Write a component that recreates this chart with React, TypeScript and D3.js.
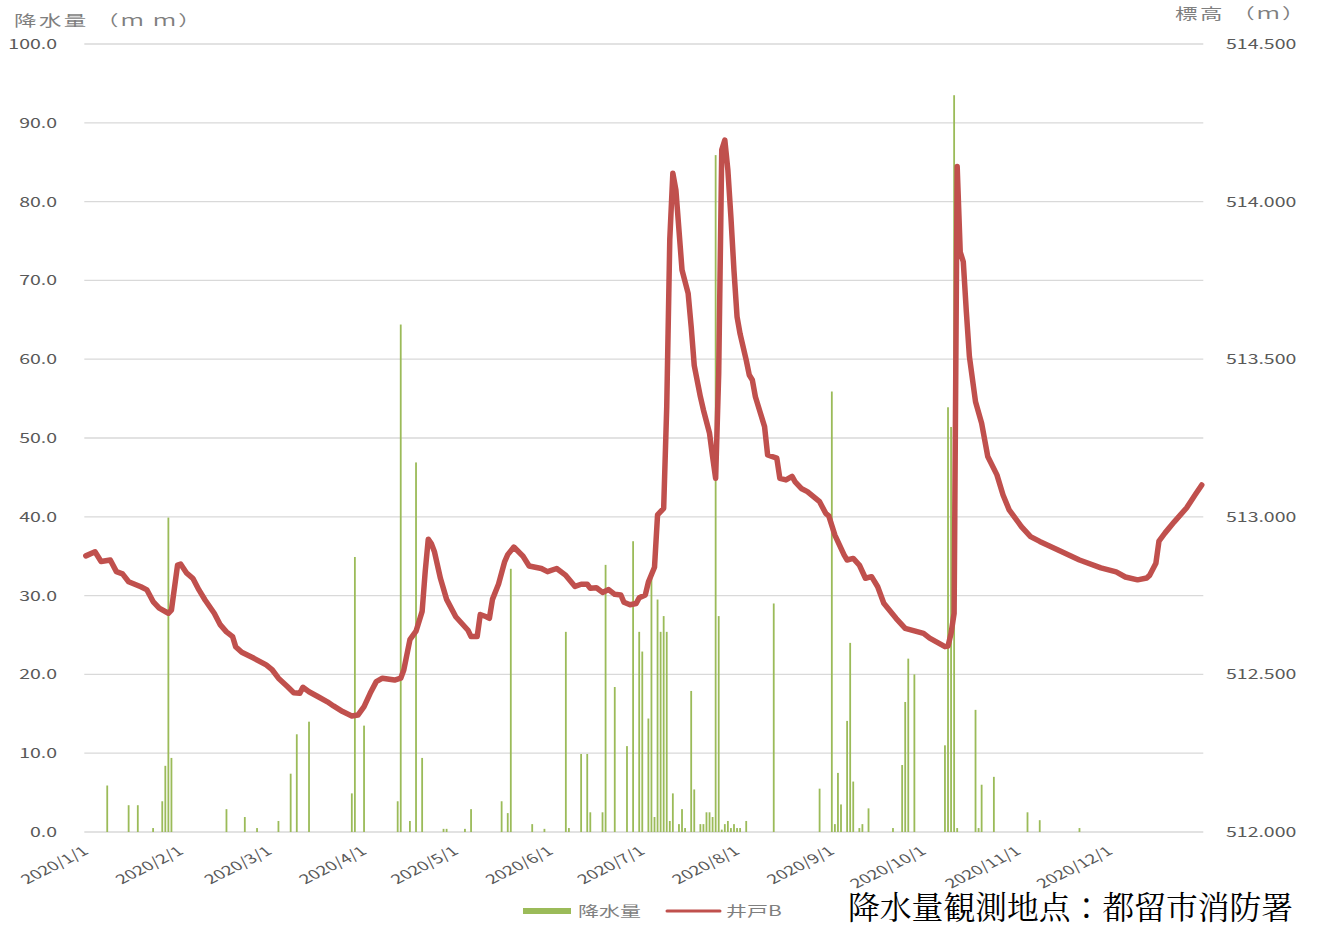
import { useEffect, useRef } from 'react';
import * as d3 from 'd3';

// daily rain (mm), day index counted from 2020/1/1
const rainDays = [7, 14, 17, 22, 25, 26, 27, 28, 46, 52, 56, 63, 67, 69, 73, 87, 88, 91,
  102, 103, 106, 108, 110, 117, 118, 124, 126, 136, 138, 139, 146, 150,
  157, 158, 162, 164, 165, 169, 170, 173, 177, 179, 181, 182, 184, 185, 186, 187, 188, 189, 190, 191, 192,
  194, 195, 196, 198, 199, 201, 202, 203, 204, 205, 206, 207, 208, 209, 210, 211, 212, 213, 214, 216,
  225, 240, 244, 245, 246, 247, 249, 250, 251, 253, 254, 256, 264, 267, 268, 269, 271,
  281, 282, 283, 284, 285, 291, 292, 293, 297, 308, 312, 325];
const rainMm = [5.9, 3.4, 3.4, 0.5, 3.9, 8.4, 39.9, 9.4, 2.9, 1.9, 0.5, 1.4, 7.4, 12.4, 14.0, 4.9, 34.9, 13.5,
  3.9, 64.4, 1.4, 46.9, 9.4, 0.4, 0.4, 0.4, 2.9, 3.9, 2.4, 33.4, 1.0, 0.4,
  25.4, 0.5, 9.9, 9.9, 2.5, 2.5, 33.9, 18.4, 10.9, 36.9, 25.4, 22.9, 14.4, 33.0, 1.9, 29.5, 25.4, 27.4, 25.4, 1.4, 4.9,
  1.0, 2.9, 0.5, 17.9, 5.4, 1.0, 1.0, 2.5, 2.5, 1.9, 85.9, 27.4, 0.3, 1.0, 1.4, 0.5, 1.0, 0.5, 0.5, 1.4,
  29.0, 5.5, 55.9, 1.0, 7.5, 3.5, 14.1, 24.0, 6.4, 0.5, 1.0, 3.0, 0.5, 8.5, 16.5, 22.0, 20.0,
  11.0, 53.9, 51.4, 93.5, 0.5, 15.5, 0.5, 6.0, 7.0, 2.5, 1.5, 0.5];

// well B elevation (m), read at these day indices
const wellDays = [0, 3, 5, 8, 10, 12, 14, 18, 20, 22, 24, 27, 28, 30, 31, 33, 35, 37, 39, 42, 44, 46, 48, 49, 51,
  55, 59, 61, 63, 66, 68, 70, 71, 73, 76, 79, 81, 84, 87, 89, 91, 93, 95, 97, 101, 103, 104, 106, 108, 110,
  111, 112, 113, 114, 116, 118, 121, 125, 126, 128, 129, 131, 132, 133, 135, 137, 138, 140, 143, 145, 149,
  151, 154, 157, 160, 162, 164, 165, 167, 169, 171, 173, 175, 176, 178, 180, 181, 183, 184, 186, 187, 189,
  190, 191, 192, 193, 195, 197, 198, 199, 201, 202, 204, 205, 206, 207, 208, 209, 210, 211, 212, 213, 214,
  216, 217, 218, 219, 220, 222, 223, 226, 227, 229, 231, 232, 234, 236, 238, 240, 242, 243, 245, 248, 249,
  251, 253, 255, 257, 259, 261, 265, 268, 274, 276, 281, 282, 283, 284, 285, 286, 287, 288, 289, 291, 293,
  295, 298, 300, 302, 306, 309, 312, 318, 325, 332, 337, 340, 344, 347, 348, 350, 351, 353, 356, 360, 363, 365];
const wellLevel = [512.876, 512.889, 512.858, 512.863, 512.826, 512.819, 512.794, 512.778, 512.768, 512.731,
  512.710, 512.694, 512.704, 512.847, 512.850, 512.821, 512.805, 512.768, 512.736, 512.694, 512.657, 512.635,
  512.620, 512.588, 512.570, 512.551, 512.530, 512.514, 512.488, 512.461, 512.442, 512.440, 512.459, 512.445,
  512.429, 512.413, 512.400, 512.382, 512.368, 512.371, 512.398, 512.440, 512.477, 512.488, 512.482, 512.488,
  512.514, 512.610, 512.637, 512.700, 512.826, 512.929, 512.915, 512.890, 512.804, 512.738, 512.683, 512.640,
  512.620, 512.620, 512.690, 512.683, 512.678, 512.738, 512.787, 512.858, 512.880, 512.904, 512.875, 512.844,
  512.836, 512.826, 512.836, 512.814, 512.779, 512.786, 512.786, 512.773, 512.775, 512.760, 512.769, 512.754,
  512.752, 512.729, 512.721, 512.725, 512.743, 512.752, 512.793, 512.840, 513.006, 513.027,
  513.349, 513.880, 514.090, 514.037, 513.783, 513.709, 513.603, 513.480, 513.381, 513.339, 513.265, 513.191,
  513.122, 513.455, 514.164, 514.195, 514.100, 513.950, 513.780, 513.635, 513.580,
  513.497, 513.450, 513.434, 513.381, 513.349, 513.286, 513.196, 513.186, 513.122, 513.117, 513.128, 513.111,
  513.090, 513.080, 513.064, 513.048, 513.011, 513.003, 512.942, 512.879, 512.863,
  512.868, 512.847, 512.805, 512.810, 512.778, 512.726, 512.678, 512.646, 512.630, 512.615, 512.588, 512.590,
  512.630, 512.694, 514.111, 513.840, 513.809, 513.650, 513.508, 513.365, 513.297,
  513.191, 513.133, 513.069, 513.022, 512.969, 512.937, 512.922, 512.895, 512.863, 512.838, 512.825, 512.809,
  512.800, 512.806, 512.815, 512.853, 512.923, 512.949, 512.984, 513.028, 513.072, 513.101];

const leftTicks = [0, 10, 20, 30, 40, 50, 60, 70, 80, 90, 100];
const rightTicks = [512, 512.5, 513, 513.5, 514, 514.5];
const monthLabels = ['2020/1/1', '2020/2/1', '2020/3/1', '2020/4/1', '2020/5/1', '2020/6/1',
  '2020/7/1', '2020/8/1', '2020/9/1', '2020/10/1', '2020/11/1', '2020/12/1'];

const FONT = "'Noto Sans CJK JP', 'Noto Sans', sans-serif";
const GREEN = '#9bbb59';
const RED = '#c0504d';

const Chart = () => {
  const svgRef = useRef(null);

  useEffect(() => {
    const svg = d3.select(svgRef.current);
    svg.selectAll('*').remove();

    const left = 84.3, right = 1203.3, top = 44, bottom = 832;
    const x = d3.scaleBand().domain(d3.range(366)).range([left, right]);
    const cx = d => x(d) + x.bandwidth() / 2;
    const yL = d3.scaleLinear().domain([0, 100]).range([bottom, top]);
    const yR = d3.scaleLinear().domain([512, 514.5]).range([bottom, top]);

    // gridlines
    svg.append('g')
      .selectAll('line')
      .data(leftTicks)
      .enter()
      .append('line')
      .attr('x1', left).attr('x2', right)
      .attr('y1', d => yL(d)).attr('y2', d => yL(d))
      .attr('stroke', '#d9d9d9')
      .attr('stroke-width', 1.3);

    // left tick labels (the source picture is stretched sideways)
    svg.append('g')
      .selectAll('g')
      .data(leftTicks)
      .enter()
      .append('g')
      .attr('transform', d => `translate(57, ${yL(d)}) scale(1.5, 1)`)
      .append('text')
      .attr('text-anchor', 'end')
      .attr('dy', '0.38em')
      .attr('font-size', 13)
      .attr('font-family', FONT)
      .attr('fill', '#595959')
      .text(d => d3.format('.1f')(d));

    svg.append('g')
      .selectAll('g')
      .data(rightTicks)
      .enter()
      .append('g')
      .attr('transform', d => `translate(1226, ${yR(d)}) scale(1.5, 1)`)
      .append('text')
      .attr('dy', '0.38em')
      .attr('font-size', 13)
      .attr('font-family', FONT)
      .attr('fill', '#595959')
      .text(d => d3.format('.3f')(d));

    // axis titles
    svg.append('g')
      .attr('transform', 'translate(14, 26) scale(1.5, 1)')
      .append('text')
      .attr('font-size', 15)
      .attr('letter-spacing', 1.6)
      .attr('font-family', FONT)
      .attr('fill', '#7f7f7f')
      .text('降水量 （ｍ ｍ）');
    svg.append('g')
      .attr('transform', 'translate(1175, 19) scale(1.5, 1)')
      .append('text')
      .attr('font-size', 15)
      .attr('letter-spacing', 1.6)
      .attr('font-family', FONT)
      .attr('fill', '#7f7f7f')
      .text('標高 （ｍ）');

    // month labels
    const parse = d3.timeParse('%Y/%m/%d');
    const start = new Date(2020, 0, 1);
    svg.append('g')
      .selectAll('g')
      .data(monthLabels)
      .enter()
      .append('g')
      .attr('transform', d => {
        const i = d3.timeDay.count(start, parse(d));
        return `translate(${cx(i) + 4}, 853) scale(1.45, 1) rotate(-36)`;
      })
      .append('text')
      .attr('text-anchor', 'end')
      .attr('font-size', 13)
      .attr('font-family', FONT)
      .attr('fill', '#595959')
      .text(d => d);

    // rain bars
    const rain = rainDays.map((d, i) => ({ day: d, mm: rainMm[i] }));
    svg.append('g')
      .selectAll('rect')
      .data(rain)
      .enter()
      .append('rect')
      .attr('x', d => cx(d.day) - 0.9)
      .attr('width', 1.8)
      .attr('y', d => yL(d.mm))
      .attr('height', d => bottom - yL(d.mm))
      .attr('fill', GREEN);

    // well line
    const well = wellDays.map((d, i) => ({ day: d, lv: wellLevel[i] }));
    const line = d3.line()
      .x(d => cx(d.day))
      .y(d => yR(d.lv));
    svg.append('path')
      .datum(well)
      .attr('d', line)
      .attr('fill', 'none')
      .attr('stroke', RED)
      .attr('stroke-width', 5.5)
      .attr('stroke-linejoin', 'round')
      .attr('stroke-linecap', 'round');

    // legend
    const lg = svg.append('g');
    lg.append('rect')
      .attr('x', 523).attr('y', 908).attr('width', 48).attr('height', 6)
      .attr('fill', GREEN);
    lg.append('g')
      .attr('transform', 'translate(578, 916) scale(1.5, 1)')
      .append('text')
      .attr('font-size', 14)
      .attr('font-family', FONT)
      .attr('fill', '#7f7f7f')
      .text('降水量');
    lg.append('line')
      .attr('x1', 667).attr('x2', 720).attr('y1', 911).attr('y2', 911)
      .attr('stroke', RED).attr('stroke-width', 3).attr('stroke-linecap', 'round');
    lg.append('g')
      .attr('transform', 'translate(726, 916) scale(1.5, 1)')
      .append('text')
      .attr('font-size', 14)
      .attr('font-family', FONT)
      .attr('fill', '#7f7f7f')
      .text('井戸B');

    // note
    svg.append('text')
      .attr('x', 848).attr('y', 919)
      .attr('font-size', 31.8)
      .attr('font-family', "'Noto Serif CJK JP', 'Noto Sans CJK JP', serif")
      .attr('fill', '#000')
      .text('降水量観測地点：都留市消防署');
  }, []);

  return (
    <svg ref={svgRef} width={1321} height={930} style={{ display: 'block', background: '#fff' }}></svg>
  );
};

export default function App() {
  return (
    <div style={{ position: 'absolute', left: 0, top: 0 }}>
      <Chart />
    </div>
  );
}
